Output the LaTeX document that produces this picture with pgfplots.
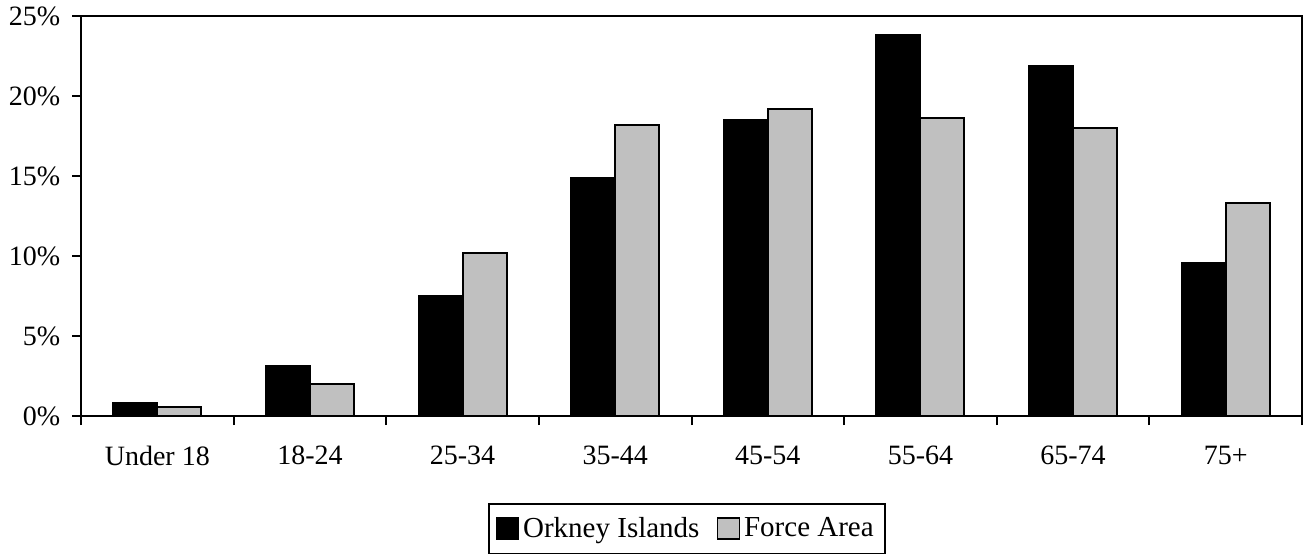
\documentclass[border=0pt]{standalone}
\usepackage{pgfplots}
\pgfplotsset{compat=1.18}
\usepackage{fontspec}
\setmainfont{Liberation Serif}
\definecolor{fgray}{HTML}{C0C0C0}
\begin{document}
\fontsize{14}{16}\selectfont
\begin{tikzpicture}
\useasboundingbox (0,0) rectangle (652pt,276.5pt);
\begin{axis}[
  at={(40.5pt,68.5pt)}, anchor=south west,
  scale only axis, width=610.5pt, height=200pt,
  axis line style={line width=1pt},
  ybar=0pt, bar width=22pt,
  xmin=-0.5, xmax=7.5, ymin=0, ymax=25,
  xtick={0,1,2,3,4,5,6,7},
  xticklabels={Under 18,18-24,25-34,35-44,45-54,55-64,65-74,75+},
  major x tick style={draw=none},
  minor xtick={-0.5,0.5,1.5,2.5,3.5,4.5,5.5,6.5,7.5},
  minor x tick style={line width=1pt, black},
  minor tick length=4.5pt,
  ytick={0,5,10,15,20,25},
  yticklabels={0\%,5\%,10\%,15\%,20\%,25\%},
  major y tick style={line width=1pt, black},
  major tick length=4.5pt,
  tick align=outside,
  xtick pos=bottom, ytick pos=left,
  tick label style={font=\fontsize{14}{16}\selectfont},
  xticklabel style={yshift=-5.5pt},
  yticklabel style={xshift=-1pt},
  legend style={at={(0.496,-0.2175)}, anchor=north, draw=black, line width=1pt,
    legend columns=2, font=\fontsize{14.5}{16}\selectfont,
    inner xsep=3.5pt, inner ysep=4.5pt,
    /tikz/every even column/.append style={column sep=6.5pt}},
  legend image code/.code={\draw[#1, line width=0.8pt] (0pt,-5pt) rectangle (11pt,5.5pt);},
]
\addplot[fill=black, draw=black, line width=1pt] coordinates {(0,0.8) (1,3.1) (2,7.5) (3,14.9) (4,18.5) (5,23.8) (6,21.9) (7,9.55)};
\addplot[fill=fgray, draw=black, line width=1pt] coordinates {(0,0.55) (1,2.0) (2,10.2) (3,18.2) (4,19.2) (5,18.6) (6,18.0) (7,13.3)};
\legend{Orkney Islands,Force Area\hspace{4pt}}
\end{axis}
\end{tikzpicture}
\end{document}
